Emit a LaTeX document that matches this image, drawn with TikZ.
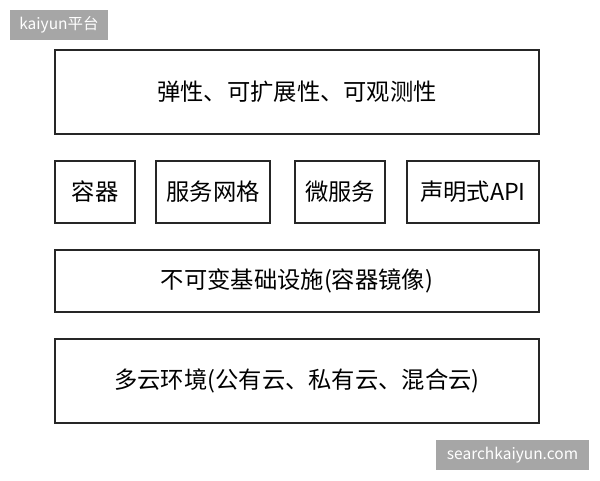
\documentclass[tikz,border=0pt]{standalone}
\usepackage{fontspec}
\setmainfont{Noto Sans CJK SC}
\begin{document}
\begin{tikzpicture}[x=1pt,y=-1pt,
  box/.style={draw=black!85,line width=1.4pt,fill=white,inner sep=0pt,font=\fontsize{23.3}{26}\selectfont},
  wmark/.style={fill=black!35,text=white,inner sep=0pt,font=\fontsize{15.5}{17}\selectfont}]
\useasboundingbox[fill=white] (0,0) rectangle (600,480);
\node[wmark,minimum width=98pt,minimum height=30pt] (wm1) at (59,25) {kaiyun平台};
\node[wmark,minimum width=153pt,minimum height=30pt] (wm2) at (512.5,455) {searchkaiyun.com};
\node[box,minimum width=484pt,minimum height=84pt] (top) at (297,92) {弹性、可扩展性、可观测性};
\node[box,minimum width=80pt,minimum height=62pt] (b1) at (95,192) {容器};
\node[box,minimum width=114pt,minimum height=62pt] (b2) at (213,192) {服务网格};
\node[box,minimum width=90pt,minimum height=62pt] (b3) at (340,192) {微服务};
\node[box,minimum width=132pt,minimum height=62pt] (b4) at (473,192) {声明式API};
\node[box,minimum width=484pt,minimum height=62pt] (inf) at (297,281) {不可变基础设施(容器镜像)};
\node[box,minimum width=484pt,minimum height=84pt] (cloud) at (297,381) {多云环境(公有云、私有云、混合云)};
\end{tikzpicture}
\end{document}
